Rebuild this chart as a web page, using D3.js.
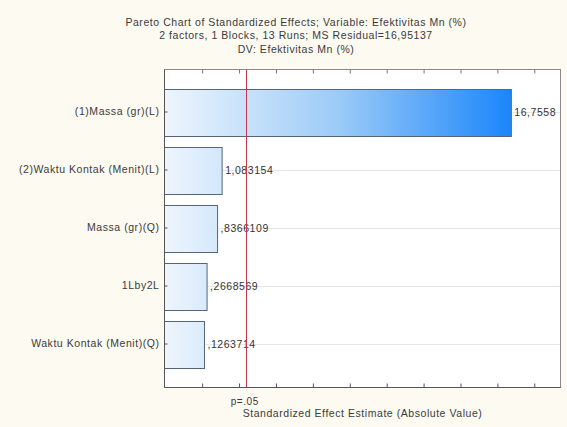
<!DOCTYPE html>
<html>
<head>
<meta charset="utf-8">
<script src="https://cdn.jsdelivr.net/npm/d3@7"></script>
<style>
  html, body { margin: 0; padding: 0; background: #fdfaf2; }
  svg { display: block; font-family: "Liberation Sans", Arial, sans-serif; }
  text { letter-spacing: 0.55px; }
</style>
</head>
<body>
<svg id="chart" width="567" height="427"></svg>
<script>
// Effects, ordered by absolute standardized estimate
const effects = [
  "(1)Massa (gr)(L)",
  "(2)Waktu Kontak (Menit)(L)",
  "Massa (gr)(Q)",
  "1Lby2L",
  "Waktu Kontak (Menit)(Q)"
];
const estimates = [16.7558, 1.083154, 0.8366109, 0.2668569, 0.1263714];
const critical = 2.3646;           // t(0.975, 7) at p = .05
const xTicks = [0, 2, 4, 6, 8, 10, 12, 14, 16, 18];
const titleLines = [
  "Pareto Chart of Standardized Effects; Variable: Efektivitas Mn (%)",
  "2 factors, 1 Blocks, 13 Runs; MS Residual=16,95137",
  "DV: Efektivitas Mn (%)"
];
const xTitle = "Standardized Effect Estimate (Absolute Value)";
const pLabel = "p=.05";

const svg = d3.select("#chart");
const plot = { left: 164.5, right: 560.5, top: 69.5, bottom: 387.5 };

const x = d3.scaleLinear().domain([-2.04, 19.42]).range([plot.left, plot.right]);
const y = d3.scaleBand().domain(effects).range([83, 373]).paddingInner(0.19).paddingOuter(0.095);

// Decimal comma, leading zero dropped (e.g. ,8366109)
const fmt = v => String(v).replace(/^0\./, ".").replace(".", ",");

// Title
svg.append("g").selectAll("text").data(titleLines).join("text")
  .attr("x", 296).attr("y", (d, i) => 25.5 + i * 13.5)
  .attr("text-anchor", "middle").attr("font-size", 10.5).attr("fill", "#3a3a3a")
  .text(d => d);

// Plot background
svg.append("rect")
  .attr("x", plot.left).attr("y", plot.top)
  .attr("width", plot.right - plot.left).attr("height", plot.bottom - plot.top)
  .attr("fill", "#ffffff");

// Shared horizontal gradient for the bars
const defs = svg.append("defs");
const grad = defs.append("linearGradient").attr("id", "barFill")
  .attr("gradientUnits", "userSpaceOnUse")
  .attr("x1", plot.left).attr("x2", x(estimates[0])).attr("y1", 0).attr("y2", 0);
grad.append("stop").attr("offset", 0).attr("stop-color", "#eef5fd");
grad.append("stop").attr("offset", 0.5).attr("stop-color", "#9ccbf7");
grad.append("stop").attr("offset", 1).attr("stop-color", "#1b86fb");

// Light gridlines through each category
svg.append("g").selectAll("line").data(effects).join("line")
  .attr("x1", plot.left).attr("x2", plot.right)
  .attr("y1", d => Math.round(y(d) + y.bandwidth() / 2) + 0.5)
  .attr("y2", d => Math.round(y(d) + y.bandwidth() / 2) + 0.5)
  .attr("stroke", "#e6e6e6").attr("stroke-width", 1);

// Bars
svg.append("g").selectAll("rect").data(effects).join("rect")
  .attr("x", plot.left)
  .attr("y", d => Math.round(y(d)) + 0.5)
  .attr("width", (d, i) => x(estimates[i]) - plot.left)
  .attr("height", Math.round(y.bandwidth()))
  .attr("fill", "url(#barFill)")
  .attr("stroke", "#55657a").attr("stroke-width", 1);

// Value labels
svg.append("g").selectAll("text").data(effects).join("text")
  .attr("x", (d, i) => x(estimates[i]) + 3)
  .attr("y", d => y(d) + y.bandwidth() / 2 + 3.5)
  .attr("font-size", 10.5).attr("fill", "#333")
  .text((d, i) => fmt(estimates[i]));

// Significance line
svg.append("line")
  .attr("x1", Math.round(x(critical)) + 0.5).attr("x2", Math.round(x(critical)) + 0.5)
  .attr("y1", plot.top).attr("y2", plot.bottom)
  .attr("stroke", "#c2374f").attr("stroke-width", 1);

// Frame
svg.append("rect")
  .attr("x", plot.left).attr("y", plot.top)
  .attr("width", plot.right - plot.left).attr("height", plot.bottom - plot.top)
  .attr("fill", "none").attr("stroke", "#8a8a8a").attr("stroke-width", 1);

// Bottom axis (inward ticks, no labels)
const xAxis = d3.axisBottom(x).tickValues(xTicks).tickSize(-4).tickFormat("");
const gx = svg.append("g").attr("transform", `translate(0,${plot.bottom})`).call(xAxis);
gx.select(".domain").remove();
gx.selectAll(".tick line").attr("stroke", "#555");
svg.append("line")
  .attr("x1", plot.left).attr("x2", plot.right)
  .attr("y1", plot.bottom).attr("y2", plot.bottom)
  .attr("stroke", "#555");

// Top axis ticks
const gxt = svg.append("g").attr("transform", `translate(0,${plot.top})`)
  .call(d3.axisTop(x).tickValues(xTicks).tickSize(-4).tickFormat(""));
gxt.select(".domain").remove();
gxt.selectAll(".tick line").attr("stroke", "#777");

// Left axis with category labels
const yAxis = d3.axisLeft(y).tickSize(-3).tickPadding(6);
const gy = svg.append("g").attr("transform", `translate(${plot.left},0)`).call(yAxis);
gy.select(".domain").remove();
gy.selectAll(".tick line").attr("stroke", "#555");
gy.selectAll(".tick text")
  .attr("x", -5)
  .attr("font-size", 10.5).attr("fill", "#3a3a3a")
  .attr("font-family", "\"Liberation Sans\", Arial, sans-serif");
svg.append("line")
  .attr("x1", plot.left).attr("x2", plot.left)
  .attr("y1", plot.top).attr("y2", plot.bottom)
  .attr("stroke", "#555");

// p = .05 marker label
svg.append("text")
  .attr("x", x(critical) - 1).attr("y", 405)
  .attr("text-anchor", "middle").attr("font-size", 10).attr("fill", "#3a3a3a")
  .text(pLabel);

// Axis title
svg.append("text")
  .attr("x", (plot.left + plot.right) / 2).attr("y", 417)
  .attr("text-anchor", "middle").attr("font-size", 10.5).attr("fill", "#3a3a3a")
  .text(xTitle);
</script>
</body>
</html>
